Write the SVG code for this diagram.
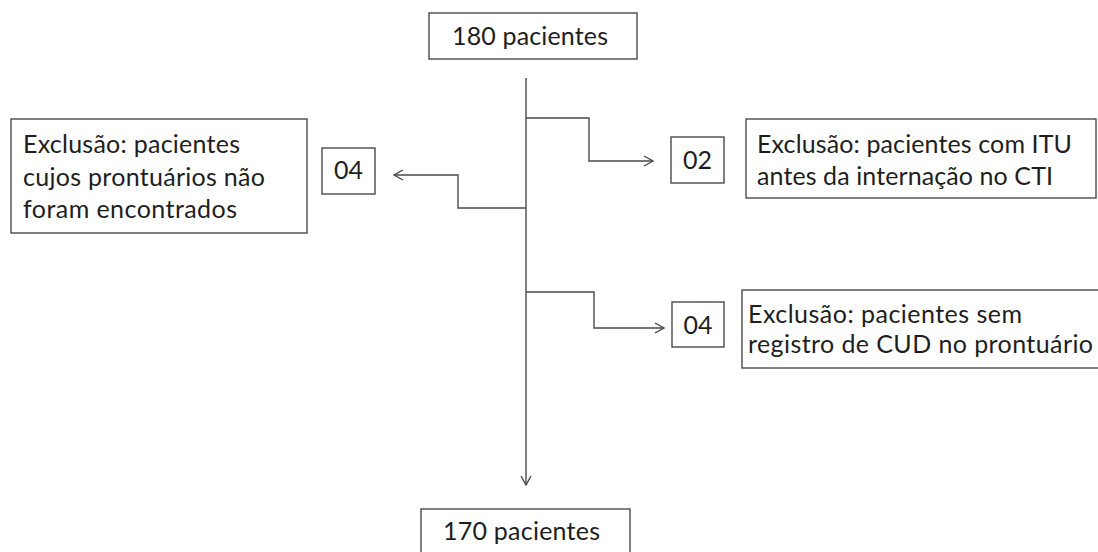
<svg xmlns="http://www.w3.org/2000/svg" width="1098" height="552" viewBox="0 0 1098 552">
<style>
.box{fill:#fff;stroke:#4a4a4a;stroke-width:1.4}
.t{font-family:Lato,"Open Sans","Liberation Sans",sans-serif;font-size:25px;fill:#1e1e1e}
.c{stroke:#4a4a4a;stroke-width:1.4;fill:none}
</style>
<defs>
<marker id="ah" viewBox="0 0 12 12" refX="11" refY="6" markerWidth="12" markerHeight="12" markerUnits="userSpaceOnUse" orient="auto">
<polyline points="2,1 11,6 2,11" fill="none" stroke="#4a4a4a" stroke-width="1.4"/>
</marker>
</defs>
<rect width="1098" height="552" fill="#fff"/>
<g id="connectors">
<path class="c" d="M526,78 V485" marker-end="url(#ah)"/>
<path class="c" d="M526,118 H589 V161 H653" marker-end="url(#ah)"/>
<path class="c" d="M526,208 H458 V175 H394" marker-end="url(#ah)"/>
<path class="c" d="M526,292 H594 V328 H664" marker-end="url(#ah)"/>
</g>
<g id="n180"><rect class="box" x="429" y="13" width="208" height="46"/><text class="t" x="452" y="45" textLength="156">180 pacientes</text></g>
<g id="exclLeft"><rect class="box" x="11" y="119" width="296" height="114"/>
<text class="t" x="23" y="153" textLength="217">Exclusão: pacientes</text>
<text class="t" x="23" y="186" textLength="242">cujos prontuários não</text>
<text class="t" x="23" y="218" textLength="214">foram encontrados</text></g>
<g id="n04left"><rect class="box" x="322" y="148" width="53" height="46"/><text class="t" x="348.5" y="179" text-anchor="middle">04</text></g>
<g id="n02"><rect class="box" x="671" y="137" width="53" height="46"/><text class="t" x="697.5" y="169" text-anchor="middle">02</text></g>
<g id="exclRight1"><rect class="box" x="746" y="119" width="350" height="79"/>
<text class="t" x="757" y="153" textLength="315">Exclusão: pacientes com ITU</text>
<text class="t" x="757" y="185" textLength="296">antes da internação no CTI</text></g>
<g id="n04right"><rect class="box" x="672" y="302" width="52" height="45"/><text class="t" x="698" y="334" text-anchor="middle">04</text></g>
<g id="exclRight2"><rect class="box" x="742" y="290" width="370" height="78"/>
<text class="t" x="748" y="323" textLength="274">Exclusão: pacientes sem</text>
<text class="t" x="748" y="353" textLength="345">registro de CUD no prontuário</text></g>
<g id="n170"><rect class="box" x="421" y="509" width="209" height="55"/><text class="t" x="443" y="540" textLength="157">170 pacientes</text></g>
</svg>
